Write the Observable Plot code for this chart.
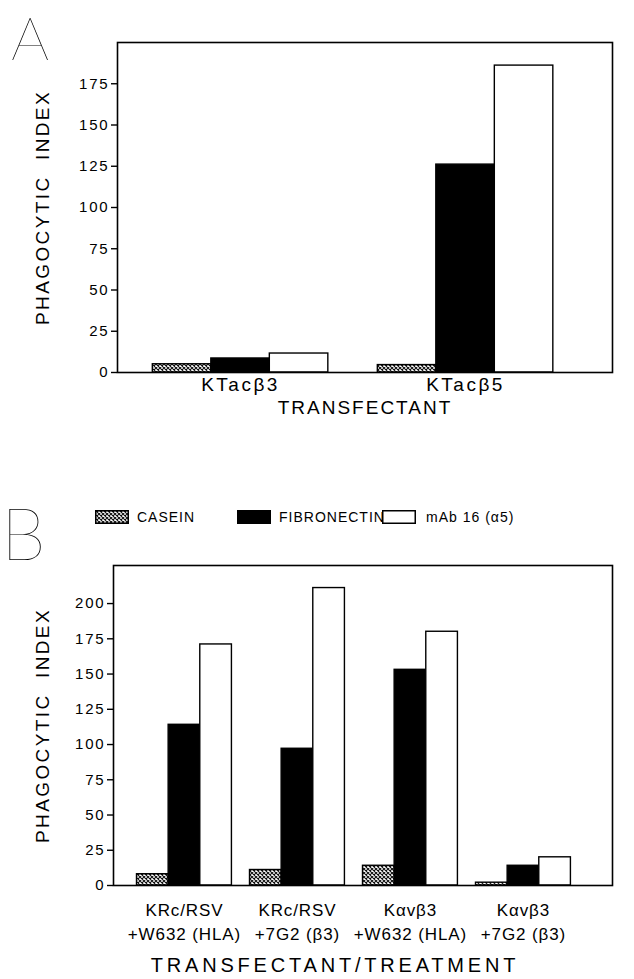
<!DOCTYPE html>
<html><head><meta charset="utf-8">
<script src="https://cdn.jsdelivr.net/npm/d3@7"></script>
<script src="https://cdn.jsdelivr.net/npm/@observablehq/plot@0.6"></script>
<style>
body{margin:0;background:#fff;}
#fig{position:relative;width:634px;height:979px;overflow:hidden;background:#fff;font-family:"Liberation Sans",Arial,sans-serif;color:#000;}
.letter{position:absolute;font-family:"Lato","Roboto","DejaVu Sans",sans-serif;font-weight:100;line-height:1.1;}
.plot{position:absolute;left:0;}
svg text{font-family:"Liberation Sans",Arial,sans-serif;fill:#000;}
g[aria-label="y-axis tick label"] text{font-size:15px;letter-spacing:1.8px;}
#plotA g[aria-label="x-axis tick label"] text{font-size:19px;letter-spacing:2.5px;}
#plotB g[aria-label="x-axis tick label"] text{font-size:17px;letter-spacing:0.9px;}
g[aria-label="y-axis label"] text{font-size:19px;letter-spacing:2.4px;}
#plotA g[aria-label="x-axis label"] text{font-size:19px;letter-spacing:2px;}
#plotB g[aria-label="x-axis label"] text{font-size:20px;letter-spacing:3.8px;}
#legend{position:absolute;top:509px;left:0;width:634px;height:20px;font-size:14px;letter-spacing:1px;}
#legend .item{position:absolute;top:0;display:flex;align-items:center;gap:8px;}
#legend svg{display:block;}
</style></head>
<body>
<svg width="0" height="0" style="position:absolute">
  <defs>
    <pattern id="xhatch" width="4" height="4" patternUnits="userSpaceOnUse">
      <rect width="4" height="4" fill="#fff"/>
      <path d="M0,0L4,4M4,0L0,4" stroke="#111" stroke-width="1.1"/>
    </pattern>
  </defs>
</svg>
<div id="fig">
  <div class="letter" style="left:11px;top:4px;font-size:60px;">A</div>
  <div class="letter" style="left:1px;top:493px;font-size:72px;">B</div>
  <div id="legend"></div>
</div>
<script>
// ---- data ----
const seriesNames = ["CASEIN", "FIBRONECTIN", "mAb 16 (α5)"];
const seriesFills = ["url(#xhatch)", "#000", "#fff"];

const groupsA = ["KTacβ3", "KTacβ5"];
const caseinA = [5, 4.5];
const fibronectinA = [8.5, 126];
const mabA = [11.5, 186];
const yTicksA = [0, 25, 50, 75, 100, 125, 150, 175];

const groupsB_line1 = ["KRc/RSV", "KRc/RSV", "Kαvβ3", "Kαvβ3"];
const groupsB_line2 = ["+W632 (HLA)", "+7G2 (β3)", "+W632 (HLA)", "+7G2 (β3)"];
const caseinB = [8, 11, 14, 2];
const fibronectinB = [114, 97, 153, 14];
const mabB = [171, 211, 180, 20];
const yTicksB = [0, 25, 50, 75, 100, 125, 150, 175, 200];

function rows(values, barW) {
  const out = [];
  values.forEach((vals, j) => vals.forEach((v, i) => {
    out.push({group: i, series: seriesNames[j], x1: i + (j - 1.5) * barW, x2: i + (j - 0.5) * barW, value: v});
  }));
  return out;
}

function panel({data, xDomain, yDomain, yTicks, nGroups, tickFormat, xLabel, marginLeft, marginTop, marginBottom, height, xLabelOffset, tickPadding, yLabelOffset}) {
  return Plot.plot({
    width: 634,
    height,
    marginLeft,
    marginRight: 22,
    marginTop,
    marginBottom,
    x: {type: "linear", domain: xDomain},
    y: {domain: yDomain},
    color: {type: "ordinal", domain: seriesNames, range: seriesFills},
    marks: [
      Plot.rect(data, {x1: "x1", x2: "x2", y1: 0, y2: "value", fill: "series", stroke: "#000", strokeWidth: 1.4}),
      Plot.frame({stroke: "#000", strokeWidth: 1.6}),
      Plot.axisY({ticks: yTicks, tickSize: 6, tickPadding: 2, tickFormat: d => String(d), strokeWidth: 1.4,
        label: "PHAGOCYTIC  INDEX", labelAnchor: "center", labelOffset: yLabelOffset, labelArrow: "none"}),
      Plot.axisX({ticks: d3.range(nGroups), tickSize: 0, tickPadding, tickFormat, lineHeight: 1.4,
        label: xLabel, labelAnchor: "center", labelOffset: xLabelOffset, labelArrow: "none"})
    ]
  });
}

const fig = document.getElementById("fig");

const plotA = panel({
  data: rows([caseinA, fibronectinA, mabA], 0.26),
  xDomain: [-0.547, 1.653],
  yDomain: [0, 200],
  yTicks: yTicksA,
  nGroups: groupsA.length,
  tickFormat: i => groupsA[i],
  xLabel: "TRANSFECTANT",
  marginLeft: 117, marginTop: 42, marginBottom: 68, height: 440,
  xLabelOffset: 41, tickPadding: 0, yLabelOffset: 82
});
plotA.classList.add("plot");
plotA.id = "plotA";
plotA.style.top = "0px";
fig.appendChild(plotA);

const plotB = panel({
  data: rows([caseinB, fibronectinB, mabB], 0.28),
  xDomain: [-0.628, 3.788],
  yDomain: [0, 227],
  yTicks: yTicksB,
  nGroups: groupsB_line1.length,
  tickFormat: i => groupsB_line1[i] + "\n" + groupsB_line2[i],
  xLabel: "TRANSFECTANT/TREATMENT",
  marginLeft: 113, marginTop: 20, marginBottom: 94, height: 434,
  xLabelOffset: 86, tickPadding: 14, yLabelOffset: 78
});
plotB.classList.add("plot");
plotB.id = "plotB";
plotB.style.top = "545px";
fig.appendChild(plotB);
// the reference's bottom title sits left of the frame centre
d3.select(plotB).select('g[aria-label="x-axis label"] text').attr("dx", -28);

// ---- legend ----
const legend = document.getElementById("legend");
const legendLeft = [95, 237, 382];
seriesNames.forEach((name, j) => {
  const item = document.createElement("div");
  item.className = "item";
  item.style.left = legendLeft[j] + "px";
  item.style.gap = (j === 2 ? 10 : 8) + "px";
  item.innerHTML = `<svg width="34" height="14"><rect x="0.75" y="0.75" width="32.5" height="12.5" fill="${seriesFills[j]}" stroke="#000" stroke-width="1.5"/></svg><span>${name}</span>`;
  legend.appendChild(item);
});
</script>
</body></html>
